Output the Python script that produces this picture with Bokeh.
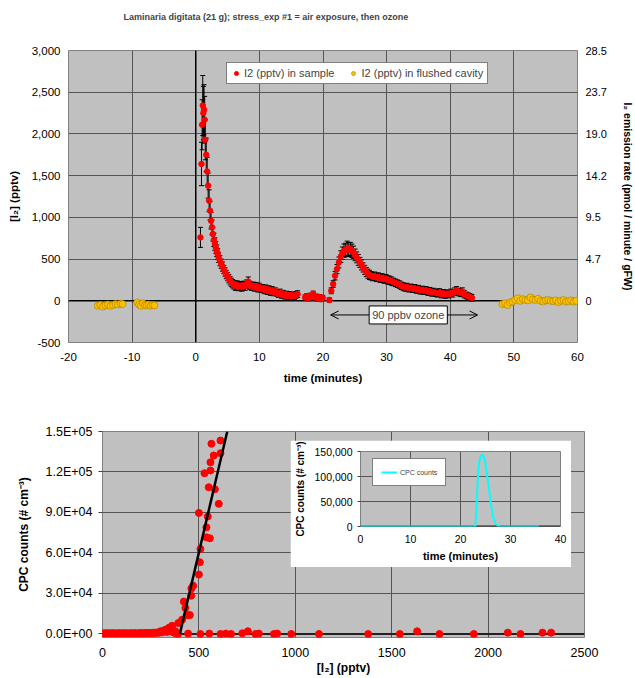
from bokeh.plotting import figure
from bokeh.models import (Range1d, LinearAxis, FixedTicker, NumeralTickFormatter,
                          Span, Arrow, OpenHead, Label, ColumnDataSource)
from bokeh.layouts import column, row
from bokeh.embed import file_html
from bokeh.resources import INLINE

FONT = "Liberation Sans"
BG = "#C0C0C0"
GRID = "#555555"

# ---------------- data: top chart ----------------
title_top = "Laminaria digitata (21 g); stress_exp #1 = air exposure, then ozone"

t_sample = [
    0.74, 0.90, 1.00, 1.10, 1.20, 1.30, 1.40, 1.50, 1.65, 1.80, 1.95, 2.10, 2.25, 2.40, 2.55, 2.70, 2.85,
    3.00, 3.15, 3.30, 3.45, 3.60, 3.80, 4.00, 4.20, 4.40, 4.60, 4.80, 5.00, 5.20, 5.40, 5.60, 5.80, 6.00,
    6.25, 6.50, 6.75, 7.00, 7.25, 7.50, 7.75, 8.00, 8.25, 8.50, 8.75, 9.00, 9.25, 9.50, 9.75, 10.00,
    10.25, 10.50, 10.75, 11.00, 11.25, 11.50, 11.75, 12.00, 12.25, 12.50, 12.75, 13.00, 13.25, 13.50,
    13.75, 14.00, 14.25, 14.50, 14.75, 15.00, 15.25, 15.50, 15.75, 16.00,
    17.20, 17.45, 17.70, 17.95, 18.20, 18.45, 18.70, 18.95, 19.20, 19.45, 19.70, 19.95,
    21.00, 21.30, 21.60, 21.90, 22.20, 22.50, 22.80, 23.05, 23.30, 23.55, 23.80, 24.05, 24.30, 24.55,
    24.80, 25.05, 25.30, 25.55, 25.80, 26.05, 26.30, 26.55, 26.80, 27.05, 27.30, 27.55, 27.80,
    28.1, 28.4, 28.7, 29.0, 29.3, 29.6, 29.9, 30.2, 30.5, 30.8, 31.1, 31.4, 31.7, 32.0, 32.3, 32.6,
    32.9, 33.2, 33.5, 33.8, 34.1, 34.4, 34.7, 35.0, 35.3, 35.6, 35.9, 36.2, 36.5, 36.8, 37.1, 37.4,
    37.7, 38.0, 38.3, 38.6, 38.9, 39.2, 39.5, 39.8, 40.1, 40.4, 40.7, 41.0, 41.3, 41.6, 41.9, 42.2,
    42.5, 42.8, 43.1, 43.4,
]
i2_sample = [
    760, 1640, 2110, 2340, 2250, 2290, 2170, 1930, 1750, 1550, 1380, 1200, 1080, 960, 880, 800, 730,
    680, 640, 600, 560, 520, 480, 445, 410, 375, 345, 315, 290, 265, 240, 220, 205, 190,
    175, 190, 170, 180, 165, 185, 175, 200, 230, 185, 170, 180, 160, 175, 150, 165,
    145, 150, 130, 145, 120, 135, 110, 125, 100, 115, 95, 80, 100, 70,
    85, 60, 75, 55, 70, 50, 65, 55, 70, 80,
    40, 55, 30, 60, 45, 85, 40, 50, 25, 45, 20, 35,
    10, 120, 200, 300, 380, 460, 530, 570, 600, 610, 630, 615, 620, 600,
    580, 550, 520, 490, 460, 430, 400, 370, 345, 325, 310, 300, 290,
    295, 280, 285, 270, 275, 260, 265, 250, 245, 235, 225, 215, 205, 195, 180, 170,
    160, 165, 150, 155, 145, 150, 135, 140, 125, 130, 120, 125, 110, 115, 100, 105,
    95, 90, 100, 80, 90, 75, 85, 80, 95, 90, 110, 125, 105, 95, 110, 80,
    65, 55, 45, 35,
]
i2_err = [
    120, 260, 300, 360, 320, 300, 280, 240, 200, 170, 150, 130, 110, 100, 90, 85, 80,
    75, 70, 70, 65, 60, 60, 55, 55, 50, 50, 50, 50, 50, 50, 50, 50, 50,
    50, 50, 50, 50, 50, 50, 50, 50, 55, 50, 45, 45, 45, 45, 45, 45,
    45, 45, 45, 45, 45, 45, 45, 45, 40, 40, 40, 40, 40, 40,
    40, 40, 40, 40, 40, 40, 40, 40, 40, 40,
    30, 30, 30, 30, 30, 30, 30, 30, 30, 30, 30, 30,
    25, 35, 40, 50, 55, 65, 70, 75, 80, 80, 85, 85, 80, 80,
    75, 70, 65, 65, 60, 60, 55, 55, 55, 55, 55, 50, 50,
    50, 50, 50, 50, 50, 50, 50, 50, 50, 50, 45, 45, 45, 45, 45, 45,
    45, 45, 45, 45, 45, 45, 45, 45, 45, 45, 45, 45, 45, 45, 45, 45,
    45, 45, 45, 45, 45, 45, 45, 45, 45, 45, 45, 45, 45, 45, 45, 45,
    40, 40, 40, 40,
]
t_cavity = [
    -15.4, -15.0, -14.6, -14.2, -13.8, -13.4, -13.0, -12.6, -12.2, -11.8, -11.5,
    -9.2, -8.9, -8.6, -8.3, -8.0, -7.7, -7.4, -7.1, -6.8, -6.5,
    48.2, 48.6, 49.0, 49.4, 49.8, 50.2, 50.6, 51.0, 51.4, 51.8, 52.2, 52.6, 53.0, 53.4, 53.8,
    54.2, 54.6, 55.0, 55.4, 55.8, 56.2, 56.6, 57.0, 57.4, 57.8, 58.2, 58.6, 59.0, 59.4, 59.8,
]
i2_cavity = [
    -60, -50, -70, -55, -45, -60, -50, -40, -45, -35, -40,
    -20, -45, -60, -30, -50, -55, -45, -60, -50, -55,
    -40, -30, -50, -20, -10, 10, 30, 0, 20, 10, 5, 40, 15, 10, 25,
    0, -10, 5, 10, 0, -5, 5, -15, 0, 10, -10, -5, 5, -10, 0,
]
x_ticks_top = [-20, -10, 0, 10, 20, 30, 40, 50, 60]
x_labels_top = ["-20", "-10", "0", "10", "20", "30", "40", "50", "60"]
y_ticks_top = [-500, 0, 500, 1000, 1500, 2000, 2500, 3000]
y_labels_top = ["-500", "0", "500", "1,000", "1,500", "2,000", "2,500", "3,000"]
rate_ticks = [0, 4.75, 9.5, 14.25, 19.0, 23.75, 28.5]
rate_labels = ["0", "4.7", "9.5", "14.2", "19.0", "23.7", "28.5"]
ozone_start, ozone_end, ozone_y = 21.2, 44.3, -170
ozone_label_x = 33.4
ozone_text = "90 ppbv ozone"

# ---------------- data: bottom chart ----------------
cpc_i2 = [
    2, 10, 18, 25, 33, 40, 48, 55, 63, 70, 78, 85, 93, 100, 108, 115, 123, 130, 138, 145,
    153, 160, 168, 175, 183, 190, 198, 205, 213, 220, 228, 235, 243, 250, 258, 265, 273, 280, 288, 295,
    301, 310, 318, 327, 335, 341, 348, 355, 361, 370, 378, 393, 413, 422, 430, 439, 453, 460, 461, 470,
    500, 505, 508, 500, 529, 539, 539, 546, 551, 557, 560, 560, 565, 577, 583, 603, 612, 612,
    384, 392, 444, 508, 554, 612, 640, 667, 725, 754, 794, 811, 889, 906, 979, 1123,
    1378, 1542, 1632, 1748, 1926, 2102, 2168, 2282, 2327,
]
cpc_counts = [
    500, 300, 600, 400, 500, 300, 600, 500, 400, 500, 300, 600, 500, 400, 500, 600, 400, 500, 300, 600,
    500, 400, 600, 500, 300, 500, 700, 400, 600, 500, 800, 500, 700, 600, 900, 700, 1000, 800, 1200, 1000,
    2000, 1200, 2500, 3200, 1500, 4000, 4900, 3000, 6100, 1000, 2000, 8100, 10600, 24000, 19300, 14000, 14000, 28400, 33800, 35800,
    44000, 53100, 63000, 89700, 119100, 79000, 71600, 87000, 108700, 70900, 121100, 127200, 140900, 132200, 107200, 96400, 133900, 143300,
    300, 0, 300, 0, 300, 0, 300, 0, 500, 2000, 0, 300, 0, 300, 0, 0,
    0, 0, 2000, 0, 0, 1000, 0, 1000, 1000,
]
fit_i2 = [401, 647]
fit_counts = [0, 150000]
cpc_x_ticks = [0, 500, 1000, 1500, 2000, 2500]
cpc_y_ticks = [0, 30000, 60000, 90000, 120000, 150000]
cpc_y_labels = ["0.0E+00", "3.0E+04", "6.0E+04", "9.0E+04", "1.2E+05", "1.5E+05"]

# ---------------- data: inset ----------------
inset_t = [0, 5, 10, 15, 20, 23.0, 23.25, 23.5, 23.75, 24.0, 24.25, 24.5, 24.75, 25.0, 25.5,
           26.0, 26.5, 27.0, 27.5, 28.0, 30.0, 35.7]
inset_counts = [0, 0, 0, 0, 0, 0, 50000, 103000, 130000, 140000, 143000, 143000, 138000, 125000, 90000,
                50000, 20000, 6000, 1500, 0, 0, 0]
inset_x_ticks = [0, 10, 20, 30, 40]
inset_y_ticks = [0, 50000, 100000, 150000]


def style_axis(ax, size, label_size, standoff, label_standoff):
    ax.major_label_text_font = FONT
    ax.major_label_text_font_size = size
    ax.major_label_text_color = "black"
    ax.axis_label_text_font = FONT
    ax.axis_label_text_font_size = label_size
    ax.axis_label_text_font_style = "bold"
    ax.axis_label_text_color = "black"
    ax.axis_line_color = None
    ax.major_tick_line_color = None
    ax.minor_tick_line_color = None
    ax.major_tick_out = 0
    ax.major_tick_in = 0
    ax.minor_tick_out = 0
    ax.minor_tick_in = 0
    ax.major_label_standoff = standoff
    ax.axis_label_standoff = label_standoff


# ================= top chart =================
top = figure(frame_width=509, frame_height=292,
             x_range=Range1d(-20, 60), y_range=Range1d(-500, 3000),
             output_backend="svg", toolbar_location=None,
             min_border_left=68, min_border_right=56, min_border_top=50, min_border_bottom=45,
             background_fill_color=BG, border_fill_color="white", outline_line_color="#808080")
# two blank lines under the title lift it away from the plot area
top.title.text = title_top + "\n \n "
top.title.text_font = FONT
top.title.text_font_size = "9px"
top.title.text_font_style = "bold"
top.title.text_line_height = 1.2
top.title.align = "left"
top.title.offset = 55
top.title.standoff = 10

top.xaxis.ticker = FixedTicker(ticks=x_ticks_top)
top.xaxis.major_label_overrides = {v: s for v, s in zip(x_ticks_top, x_labels_top)}
top.yaxis.ticker = FixedTicker(ticks=y_ticks_top)
top.yaxis.major_label_overrides = {v: s for v, s in zip(y_ticks_top, y_labels_top)}
top.xaxis.axis_label = "time (minutes)"
top.yaxis.axis_label = "[I\u2082] (pptv)"
style_axis(top.xaxis[0], "11.5px", "11.5px", 10, 8)
style_axis(top.yaxis[0], "11.5px", "11.5px", 8, 9)
top.xgrid.ticker = FixedTicker(ticks=x_ticks_top)
top.ygrid.ticker = FixedTicker(ticks=y_ticks_top)
for g in (top.xgrid[0], top.ygrid[0]):
    g.grid_line_color = GRID
    g.grid_line_width = 1

top.extra_y_ranges = {"rate": Range1d(-4.75, 28.5)}
ax_r = LinearAxis(y_range_name="rate", ticker=FixedTicker(ticks=rate_ticks),
                  major_label_overrides={v: s for v, s in zip(rate_ticks, rate_labels)},
                  axis_label="I\u2082 emission rate (pmol / minute / gFW)")
style_axis(ax_r, "11px", "10.5px", 8, 12)
top.add_layout(ax_r, "right")

top.add_layout(Span(location=0, dimension="width", line_color="black", line_width=1.5, level="underlay"))
top.add_layout(Span(location=0, dimension="height", line_color="black", line_width=1.5, level="underlay"))

lo = [v - e for v, e in zip(i2_sample, i2_err)]
hi = [v + e for v, e in zip(i2_sample, i2_err)]
src = ColumnDataSource(dict(t=t_sample, v=i2_sample, lo=lo, hi=hi))
top.segment(x0="t", y0="lo", x1="t", y1="hi", source=src, line_color="black", line_width=1)
top.scatter(x="t", y="lo", source=src, marker="dash", size=5, line_color="black", line_width=1)
top.scatter(x="t", y="hi", source=src, marker="dash", size=5, line_color="black", line_width=1)
top.scatter(x="t", y="v", source=src, marker="circle", size=5.5, fill_color="#FF0000",
            line_color="#FF0000", legend_label="I2 (pptv) in sample")
top.scatter(x=t_cavity, y=i2_cavity, marker="circle", size=7, fill_color="#FFC000",
            line_color="#a08000", line_width=0.6, legend_label="I2 (pptv) in flushed cavity")

lg = top.legend[0]
lg.location = (158, 258)
lg.orientation = "horizontal"
lg.label_text_font = FONT
lg.label_text_font_size = "11px"
lg.glyph_width = 10
lg.glyph_height = 12
lg.label_standoff = 3
lg.spacing = 14
lg.padding = 4
lg.margin = 0
lg.border_line_color = "black"
lg.border_line_width = 1
lg.background_fill_color = "white"
lg.background_fill_alpha = 1

top.add_layout(Arrow(x_start=ozone_start, y_start=ozone_y, x_end=ozone_end, y_end=ozone_y,
                     start=OpenHead(size=8, line_width=1), end=OpenHead(size=8, line_width=1),
                     line_color="black", line_width=1))
top.add_layout(Label(x=ozone_label_x, y=ozone_y, text=ozone_text,
                     text_align="center", text_baseline="middle", text_font=FONT,
                     text_font_size="11px", background_fill_color="white",
                     border_line_color="black", border_line_width=1, padding=3))

# ================= bottom chart =================
bottom = figure(frame_width=482, frame_height=206,
                x_range=Range1d(0, 2500), y_range=Range1d(-2600, 150000),
                output_backend="svg", toolbar_location=None,
                min_border_left=102, min_border_right=43, min_border_top=44, min_border_bottom=40,
                background_fill_color=BG, border_fill_color="white", outline_line_color="#808080")
bottom.xaxis.ticker = FixedTicker(ticks=cpc_x_ticks)
bottom.yaxis.ticker = FixedTicker(ticks=cpc_y_ticks)
bottom.yaxis.major_label_overrides = {v: s for v, s in zip(cpc_y_ticks, cpc_y_labels)}
bottom.xaxis.axis_label = "[I\u2082] (pptv)"
bottom.yaxis.axis_label = "CPC counts (# cm\u207b\u00b3)"
style_axis(bottom.xaxis[0], "12.5px", "12px", 10, 1)
style_axis(bottom.yaxis[0], "12.5px", "12px", 6, 12)
bottom.yaxis.major_tick_out = 4
bottom.yaxis.major_tick_line_color = "#404040"
bottom.xgrid.ticker = FixedTicker(ticks=cpc_x_ticks)
bottom.ygrid.ticker = FixedTicker(ticks=cpc_y_ticks)
for g in (bottom.xgrid[0], bottom.ygrid[0]):
    g.grid_line_color = GRID
    g.grid_line_width = 1
bottom.add_layout(Span(location=0, dimension="width", line_color="#222222", line_width=2, level="underlay"))

bottom.scatter(x=cpc_i2, y=cpc_counts, marker="circle", size=7, fill_color="#FF0000", line_color="#FF0000")
bottom.line(x=fit_i2, y=fit_counts, line_color="black", line_width=2.5)

# ================= inset =================
inset = figure(frame_width=200, frame_height=75,
               x_range=Range1d(0, 40), y_range=Range1d(0, 150000),
               output_backend="svg", toolbar_location=None,
               min_border_left=70, min_border_right=11, min_border_top=11, min_border_bottom=41,
               background_fill_color=BG, border_fill_color="white", outline_line_color="#808080")
inset.xaxis.ticker = FixedTicker(ticks=inset_x_ticks)
inset.yaxis.ticker = FixedTicker(ticks=inset_y_ticks)
inset.yaxis.formatter = NumeralTickFormatter(format="0,0")
inset.xaxis.axis_label = "time (minutes)"
inset.yaxis.axis_label = "CPC counts (# cm\u207b\u00b3)"
style_axis(inset.xaxis[0], "10.5px", "11px", 8, 4)
style_axis(inset.yaxis[0], "10.5px", "10px", 5, 6)
inset.yaxis.major_tick_out = 3
inset.yaxis.major_tick_line_color = "#404040"
inset.xgrid.ticker = FixedTicker(ticks=inset_x_ticks)
inset.ygrid.ticker = FixedTicker(ticks=inset_y_ticks)
for g in (inset.xgrid[0], inset.ygrid[0]):
    g.grid_line_color = GRID
    g.grid_line_width = 1
inset.add_layout(Span(location=0, dimension="width", line_color="#222222", line_width=2, level="underlay"))
inset.line(x=inset_t, y=inset_counts, line_color="#00FFFF", line_width=2, legend_label="CPC counts")
lgi = inset.legend[0]
lgi.location = (12, 40)
lgi.label_text_font = FONT
lgi.label_text_font_size = "7px"
lgi.glyph_width = 16
lgi.glyph_height = 10
lgi.label_standoff = 3
lgi.padding = 8
lgi.margin = 0
lgi.border_line_color = "black"
lgi.background_fill_color = "white"
lgi.background_fill_alpha = 1

# top figure: 50+292+45 = 387 tall, bottom figure: 44+206+40 = 290 tall -> 677 in all
inset_box = row(inset, margin=(-237, 0, 110, 290))

layout = column(row(top), row(bottom), inset_box, spacing=0)
open("out.html", "w").write(file_html(layout, INLINE, title="Laminaria digitata"))
